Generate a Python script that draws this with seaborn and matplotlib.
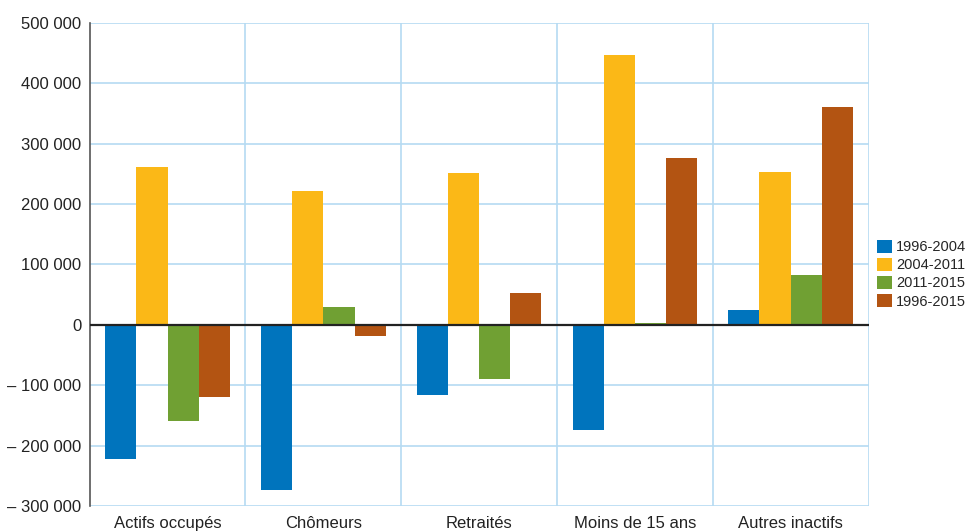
import pandas as pd
import numpy as np
import matplotlib
matplotlib.use('Agg')
import matplotlib.pyplot as plt
import seaborn as sns
from matplotlib.ticker import FixedLocator, FuncFormatter

# Data
categories = ['Actifs occupés', 'Chômeurs', 'Retraités', 'Moins de 15 ans', 'Autres inactifs']
periods = ['1996-2004', '2004-2011', '2011-2015', '1996-2015']
v_1996_2004 = [-223000, -273000, -116000, -175000, 25000]
v_2004_2011 = [262000, 222000, 252000, 447000, 253000]
v_2011_2015 = [-160000, 30000, -89000, 3000, 83000]
v_1996_2015 = [-119000, -18000, 52000, 277000, 361000]
y_ticks = [-300000, -200000, -100000, 0, 100000, 200000, 300000, 400000, 500000]

colors = ['#0074BD', '#FBB817', '#70A033', '#B35412']
grid_color = '#B5DAF2'

sns.set_style('white')
plt.rcParams['font.family'] = ['Liberation Sans', 'DejaVu Sans']

df = pd.DataFrame({
    'categorie': np.repeat(categories, len(periods)),
    'periode': periods * len(categories),
    'valeur': np.array([v_1996_2004, v_2004_2011, v_2011_2015, v_1996_2015]).T.ravel(),
})

fig, ax = plt.subplots(figsize=(9.65, 5.32), dpi=100)
fig.subplots_adjust(left=0.093, right=0.9, top=0.957, bottom=0.049)

sns.barplot(data=df, x='categorie', y='valeur', hue='periode', hue_order=periods,
            palette=colors, order=categories, width=0.8, saturation=1,
            errorbar=None, linewidth=0, ax=ax, zorder=3)

ax.set_ylim(-300000, 500000)
ax.set_xlim(-0.5, len(categories) - 0.5)
ax.yaxis.set_major_locator(FixedLocator(y_ticks))


def fmt(v, pos):
    s = f'{abs(int(v)):,}'.replace(',', ' ')
    return ('– ' + s) if v < 0 else s


ax.yaxis.set_major_formatter(FuncFormatter(fmt))

# grid
for y in y_ticks:
    if y != 0:
        ax.axhline(y, color=grid_color, lw=1.2, zorder=1)
for x in np.arange(0.5, len(categories), 1.0):
    ax.axvline(x, color=grid_color, lw=1.2, zorder=1)
ax.axhline(0, color='#222222', lw=1.6, zorder=4)

for side in ['top', 'right', 'bottom']:
    ax.spines[side].set_visible(False)
ax.spines['left'].set_color('#555555')
ax.spines['left'].set_linewidth(1.2)

ax.tick_params(axis='both', length=0, labelsize=12, colors='#222222')
ax.tick_params(axis='x', pad=7)
ax.tick_params(axis='y', pad=6)
ax.set_xlabel('')
ax.set_ylabel('')

ax.legend(loc='center left', bbox_to_anchor=(1.0, 0.48), frameon=False,
          fontsize=10.5, handlelength=1.0, handleheight=1.0, handletextpad=0.3,
          labelspacing=0.25, borderaxespad=0.4, borderpad=0.2)

fig.savefig('out.png', dpi=100)
